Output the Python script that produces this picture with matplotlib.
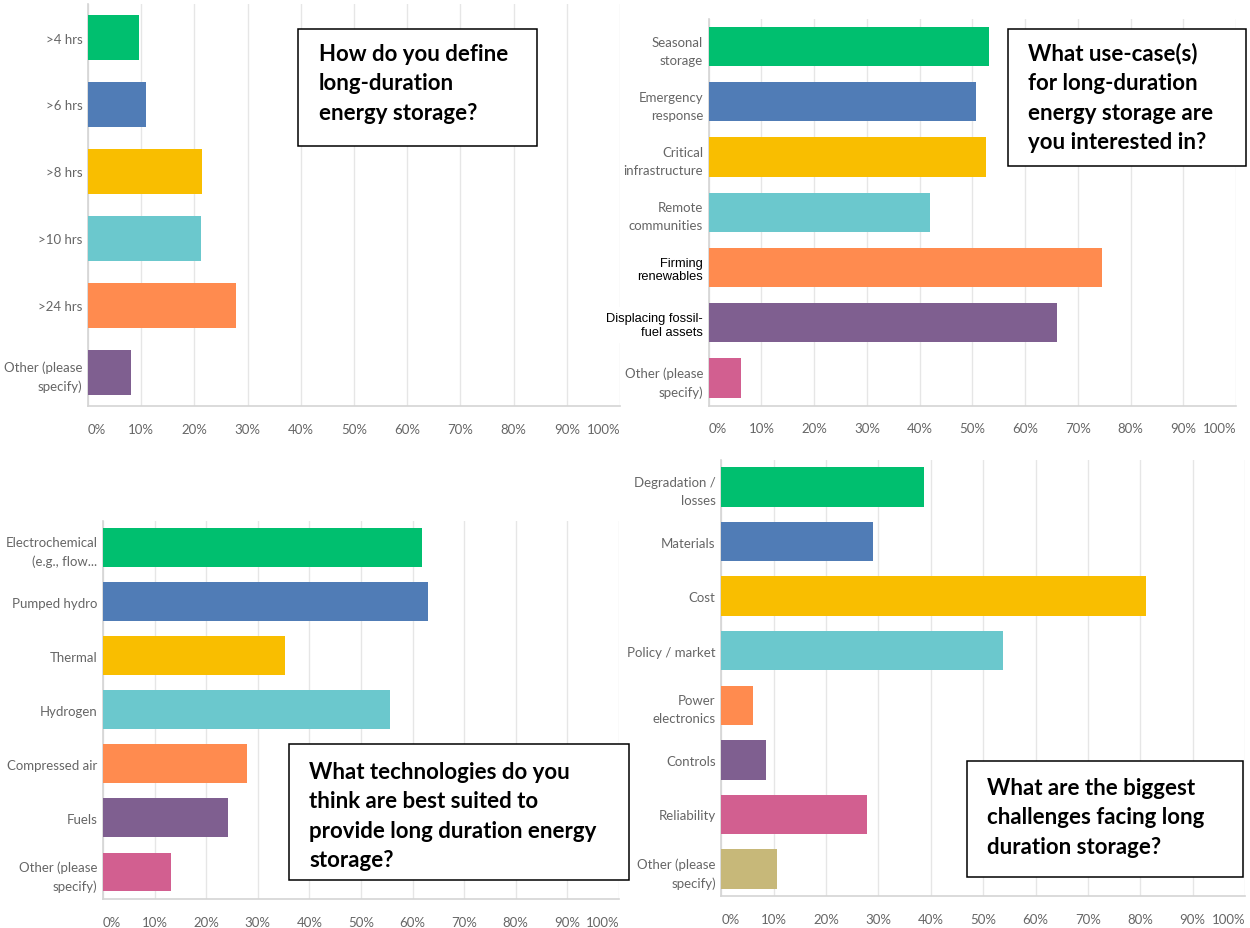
import matplotlib
matplotlib.use('Agg')
import matplotlib.pyplot as plt
from matplotlib.patches import Rectangle
import numpy as np

# survey answers, percent of respondents
q1_labels = ['>4 hrs', '>6 hrs', '>8 hrs', '>10 hrs', '>24 hrs', 'Other (please\nspecify)']
q1_values = [9.6, 10.9, 21.4, 21.2, 27.9, 8.0]

q2_labels = ['Seasonal\nstorage', 'Emergency\nresponse', 'Critical\ninfrastructure',
             'Remote\ncommunities', 'Firming\nrenewables', 'Displacing fossil-\nfuel assets',
             'Other (please\nspecify)']
q2_values = [53.2, 50.7, 52.6, 42.0, 74.5, 66.1, 6.1]

q3_labels = ['Electrochemical\n(e.g., flow...', 'Pumped hydro', 'Thermal', 'Hydrogen',
             'Compressed air', 'Fuels', 'Other (please\nspecify)']
q3_values = [61.8, 63.0, 35.3, 55.6, 28.0, 24.2, 13.2]

q4_labels = ['Degradation /\nlosses', 'Materials', 'Cost', 'Policy / market', 'Power\nelectronics',
             'Controls', 'Reliability', 'Other (please\nspecify)']
q4_values = [38.7, 28.9, 81.1, 53.8, 6.1, 8.6, 27.9, 10.6]

questions = ['How do you define\nlong-duration\nenergy storage?',
             'What use-case(s)\nfor long-duration\nenergy storage are\nyou interested in?',
             'What technologies do you\nthink are best suited to\nprovide long duration energy\nstorage?',
             'What are the biggest\nchallenges facing long\nduration storage?']

colors = ['#00BF6F', '#507CB6', '#F9BE00', '#6BC8CD', '#FF8B4F', '#7F5F90', '#D25F90', '#C7B879']
pasted = ['Firming\nrenewables', 'Displacing fossil-\nfuel assets']

W, H = 1250, 929
fig = plt.figure(figsize=(W / 100, H / 100), dpi=100)
fig.patch.set_facecolor('white')


def px_axes(x0, x1, top, bottom):
    return fig.add_axes([x0 / W, 1 - bottom / H, (x1 - x0) / W, (bottom - top) / H])


def bar_panel(ax, labels, values, height):
    y = np.arange(len(labels))
    ax.barh(y, values, height=height, color=colors[:len(labels)], zorder=3)
    ax.set_xlim(0, 100)
    ax.set_ylim(len(labels) - 0.5, -0.5)
    ax.set_yticks(y)
    ax.set_yticklabels(labels, family='Lato', fontsize=9.5, color='#666666',
                       linespacing=1.6)
    ticks = list(range(0, 101, 10))
    ax.set_xticks(ticks)
    ax.set_xticklabels([f'{t}%' for t in ticks], family='Lato', fontsize=9.5, color='#666666')
    tl = ax.get_xticklabels()
    tl[0].set_ha('left')
    tl[-1].set_ha('right')
    ax.tick_params(axis='x', length=0, pad=12)
    ax.tick_params(axis='y', length=0, pad=4)
    ax.grid(axis='x', color='#e6e6e6', lw=1, zorder=0)
    for s in ['top', 'right']:
        ax.spines[s].set_visible(False)
    for s in ['left', 'bottom']:
        ax.spines[s].set_color('#d4d4d4')
        ax.spines[s].set_linewidth(1.2)
    # two labels were pasted over the original in a different font
    for lab in ax.get_yticklabels():
        if lab.get_text() in pasted:
            lab.set_family('Liberation Sans')
            lab.set_color('black')
            lab.set_fontsize(9.3)
            lab.set_linespacing(1.15)
            lab.set_bbox(dict(facecolor='white', edgecolor='none', pad=4))
            lab.set_zorder(5)


def question_box(x0, x1, top, bottom, text, tx, ty):
    fig.patches.append(Rectangle((x0 / W, 1 - bottom / H), (x1 - x0) / W, (bottom - top) / H,
                                 transform=fig.transFigure, facecolor='white',
                                 edgecolor='black', lw=1.1, zorder=10))
    fig.text(tx / W, 1 - ty / H, text, family='Lato', fontweight='bold', fontsize=16,
             va='top', ha='left', linespacing=1.5, zorder=11)


ax1 = px_axes(88, 620, 5, 407)
bar_panel(ax1, q1_labels, q1_values, 0.67)
ax2 = px_axes(708.7, 1236, 20, 406.7)
bar_panel(ax2, q2_labels, q2_values, 0.71)
ax3 = px_axes(103, 619, 521.7, 900)
bar_panel(ax3, q3_labels, q3_values, 0.72)
ax4 = px_axes(721.3, 1245, 460.7, 897.3)
bar_panel(ax4, q4_labels, q4_values, 0.72)

question_box(298, 536.5, 30, 146.5, questions[0], 319, 44)
question_box(1008, 1246, 30, 166.5, questions[1], 1028, 43)
question_box(288.5, 628.5, 745, 880.5, questions[2], 309, 762)
question_box(967, 1243, 761.5, 878, questions[3], 987, 778)

fig.savefig('out.png', dpi=100, facecolor='white')
